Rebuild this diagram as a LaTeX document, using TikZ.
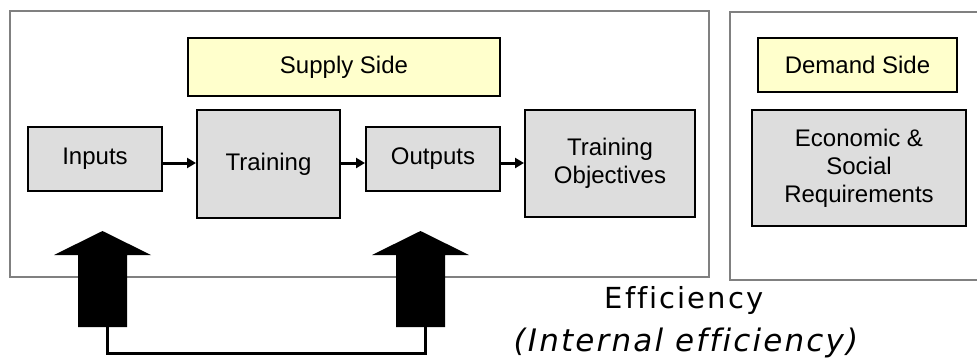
\documentclass[tikz,border=0pt]{standalone}
\usepackage{fontspec}
\setmainfont{Liberation Sans}
\newfontfamily\effont[LetterSpace=7,Ligatures=NoCommon]{DejaVu Sans}
\usetikzlibrary{arrows.meta}
\definecolor{boxgray}{HTML}{DDDDDD}
\definecolor{sideyellow}{HTML}{FFFFCC}
\definecolor{framegray}{HTML}{808080}
\begin{document}
\begin{tikzpicture}
  [x=1pt,y=-1pt,every node/.style={rectangle,inner sep=0pt,align=center,font=\fontsize{24}{28}\selectfont},
   stage/.style={draw=black,line width=2pt,fill=boxgray},
   side/.style={draw=black,line width=2pt,fill=sideyellow},
   frame/.style={draw=framegray,line width=2pt},
   flow/.style={line width=3pt,-{Triangle[length=9pt,width=10pt]}}]
  \useasboundingbox (0,0) rectangle (977,360);
  \draw[frame] (10,11) rectangle (709,277);
  \draw[frame] (730,12) rectangle (990,280);

  \node (sup)[side,minimum width=312pt,minimum height=58pt] at (344,67) {Supply Side};
  \node (dem)[side,minimum width=199pt,minimum height=54pt] at (857.5,65) {Demand Side};
  \node (inp)[stage,minimum width=134pt,minimum height=64pt] at (95,159) {Inputs};
  \node (trn)[stage,minimum width=143pt,minimum height=108pt] at (268.5,164) {Training};
  \node (out)[stage,minimum width=134pt,minimum height=64pt] at (433,159) {Outputs};
  \node (obj)[stage,minimum width=170pt,minimum height=107pt] at (610,163.5) {Training\\Objectives};
  \node (eco)[stage,minimum width=214pt,minimum height=116pt] at (859,168) {Economic \&\\Social\\Requirements};

 \foreach \from/\to in {inp/trn,trn/out,out/obj}
    \draw[flow] (\from.east |- 0,163) -- (\to.west |- 0,163);

  % block arrows
  \foreach \x/\n in {102.5/a,420.5/b} {
    \fill (\x-24.5,327) -- (\x-24.5,255) -- (\x-48.5,255) -- (\x,231)
      -- (\x+48.5,255) -- (\x+24.5,255) -- (\x+24.5,327) -- cycle;
    \coordinate (\n) at (\x+4.5,327);
  }
  \draw[line width=3pt] (a) -- ++(0,26) -| (b |- a);

  \node (eff)[font=\effont\fontsize{29}{34}\selectfont] at (684,300) {Efficiency};
  \node (int)[font=\effont\itshape\fontsize{31}{36}\selectfont] at (686,343) {(Internal efficiency)};
\end{tikzpicture}
\end{document}
